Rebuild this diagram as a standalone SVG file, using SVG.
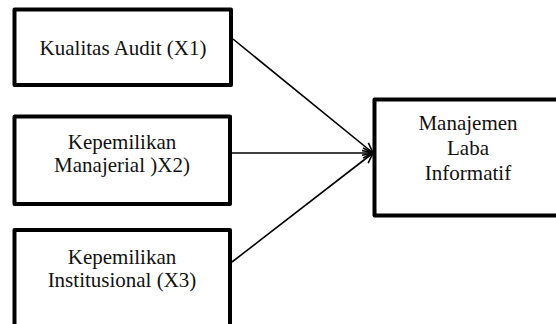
<svg xmlns="http://www.w3.org/2000/svg" width="556" height="324" viewBox="0 0 556 324">
<style>
.box{fill:#fff;stroke:#000;stroke-width:4;stroke-linejoin:round}
.t{font-family:"Liberation Serif","Times New Roman",serif;font-size:21px;fill:#111;text-anchor:middle}
.c{fill:none;stroke:#000;stroke-width:1.6}
</style>
<defs>
<marker id="ah" viewBox="0 0 12 12" refX="11" refY="6" markerWidth="12" markerHeight="12" markerUnits="userSpaceOnUse" orient="auto">
<path d="M1,1 L11,6 L1,11" fill="none" stroke="#000" stroke-width="1.6"/>
</marker>
</defs>
<rect width="556" height="324" fill="#fff"/>
<g id="connectors">
<line class="c" x1="233" y1="39" x2="373" y2="153" marker-end="url(#ah)"/>
<line class="c" x1="232" y1="153" x2="373" y2="153" marker-end="url(#ah)"/>
<line class="c" x1="232" y1="262" x2="373" y2="153" marker-end="url(#ah)"/>
</g>
<g id="n1">
<rect class="box" x="14.5" y="9.5" width="216.5" height="75.5"/>
<text class="t" x="123" y="55">Kualitas Audit (X1)</text>
</g>
<g id="n2">
<rect class="box" x="14.5" y="116.5" width="215.5" height="87.5"/>
<text class="t" x="122" y="149">Kepemilikan</text>
<text class="t" x="122" y="172">Manajerial )X2)</text>
</g>
<g id="n3">
<rect class="box" x="14.5" y="230" width="215.5" height="100"/>
<text class="t" x="122" y="264">Kepemilikan</text>
<text class="t" x="122" y="287">Institusional (X3)</text>
</g>
<g id="n4">
<rect class="box" x="374.5" y="99.5" width="190" height="116"/>
<text class="t" x="468" y="130">Manajemen</text>
<text class="t" x="468" y="155">Laba</text>
<text class="t" x="468" y="180">Informatif</text>
</g>
</svg>
